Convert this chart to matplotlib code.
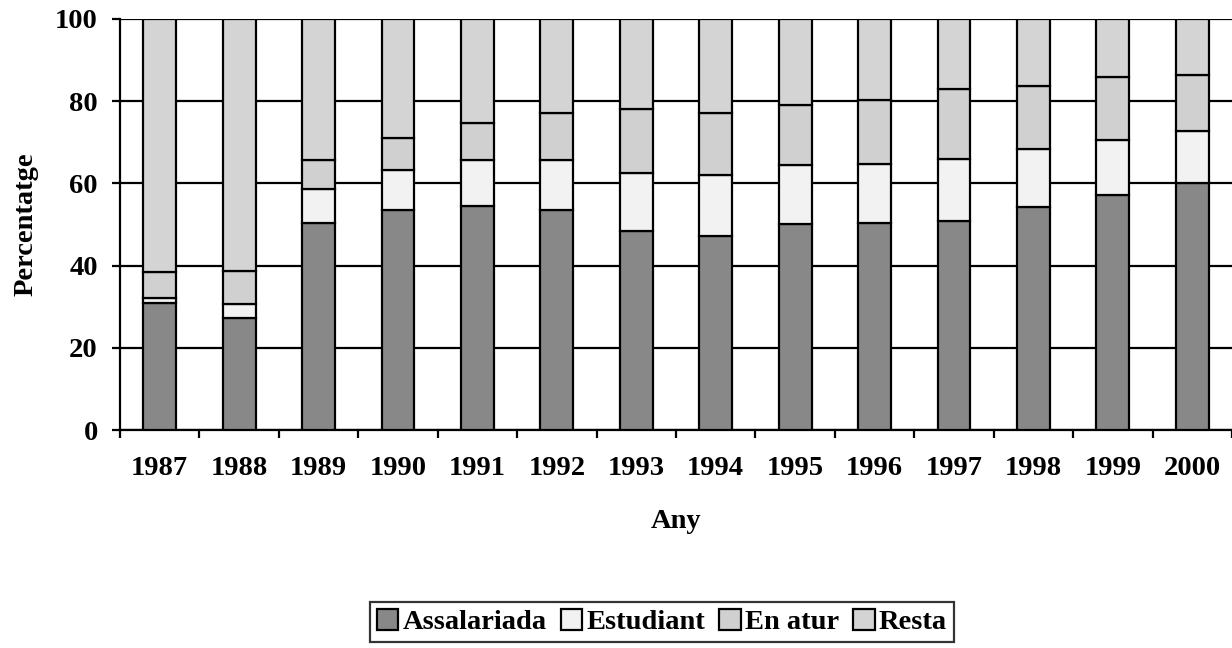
import numpy as np
import matplotlib
matplotlib.use("Agg")
import matplotlib.pyplot as plt

years = ["1987", "1988", "1989", "1990", "1991", "1992", "1993",
         "1994", "1995", "1996", "1997", "1998", "1999", "2000"]

# cumulative tops
assalariada = [31.0, 27.3, 50.3, 53.5, 54.6, 53.5, 48.5, 47.2, 50.0, 50.3, 50.8, 54.2, 57.1, 60.2]
top_estudiant = [32.2, 30.6, 58.6, 63.3, 65.8, 65.8, 62.6, 62.0, 64.4, 64.8, 65.9, 68.3, 70.5, 72.8]
top_atur = [38.4, 38.7, 65.6, 71.1, 74.8, 77.1, 78.0, 77.2, 79.0, 80.4, 82.9, 83.6, 85.9, 86.4]

estudiant = [b - a for a, b in zip(assalariada, top_estudiant)]
en_atur = [b - a for a, b in zip(top_estudiant, top_atur)]
resta = [100 - t for t in top_atur]

series = [("Assalariada", assalariada, "#888888"),
          ("Estudiant", estudiant, "#f2f2f2"),
          ("En atur", en_atur, "#d0d0d0"),
          ("Resta", resta, "#d4d4d4")]

plt.rcParams["font.family"] = ["Liberation Serif", "DejaVu Serif"]
plt.rcParams["font.weight"] = "bold"
fs = 20.5

fig = plt.figure(figsize=(12.32, 6.48), dpi=100)
ax = fig.add_axes([120 / 1232, 1 - 430 / 648, 1112 / 1232, 411 / 648])

x = np.arange(len(years))
bottom = np.zeros(len(years))
for name, vals, col in series:
    ax.bar(x, vals, 0.415, bottom=bottom, color=col, edgecolor="black",
           linewidth=1.6, label=name, zorder=3)
    bottom += np.array(vals)

ax.set_xlim(-0.5, len(years) - 0.5)
ax.set_ylim(0, 100)
ax.set_yticks(range(0, 101, 20))
ax.yaxis.grid(True, color="black", linewidth=1.6, zorder=0)
ax.set_axisbelow(True)

ax.set_xticks(x)
ax.set_xticklabels(years, fontsize=fs, fontweight="bold")
ax.set_xticks(np.arange(-0.5, len(years)), minor=True)
ax.tick_params(axis="x", which="major", length=0, pad=19)
ax.tick_params(axis="x", which="minor", length=6, width=1.6, direction="out")
ax.tick_params(axis="y", length=6, width=1.6, direction="out", labelsize=fs, pad=10)
for lab in ax.get_yticklabels():
    lab.set_fontweight("bold")

for s in ["top", "right"]:
    ax.spines[s].set_visible(False)
ax.spines["left"].set_linewidth(1.6)
ax.spines["bottom"].set_linewidth(1.6)

ax.set_xlabel("Any", fontsize=fs, fontweight="bold", labelpad=20)
ax.set_ylabel("Percentatge", fontsize=fs, fontweight="bold", labelpad=12)

leg = ax.legend(loc="center", bbox_to_anchor=(662 / 1232, 1 - 622 / 648),
                bbox_transform=fig.transFigure, ncol=4, frameon=True,
                fancybox=False, edgecolor="black", fontsize=fs,
                handlelength=0.75, handleheight=0.75, handletextpad=0.15,
                columnspacing=0.5, borderpad=0.25)
leg.get_frame().set_linewidth(1.6)
for t in leg.get_texts():
    t.set_fontweight("bold")

fig.savefig("out.png", dpi=100)
